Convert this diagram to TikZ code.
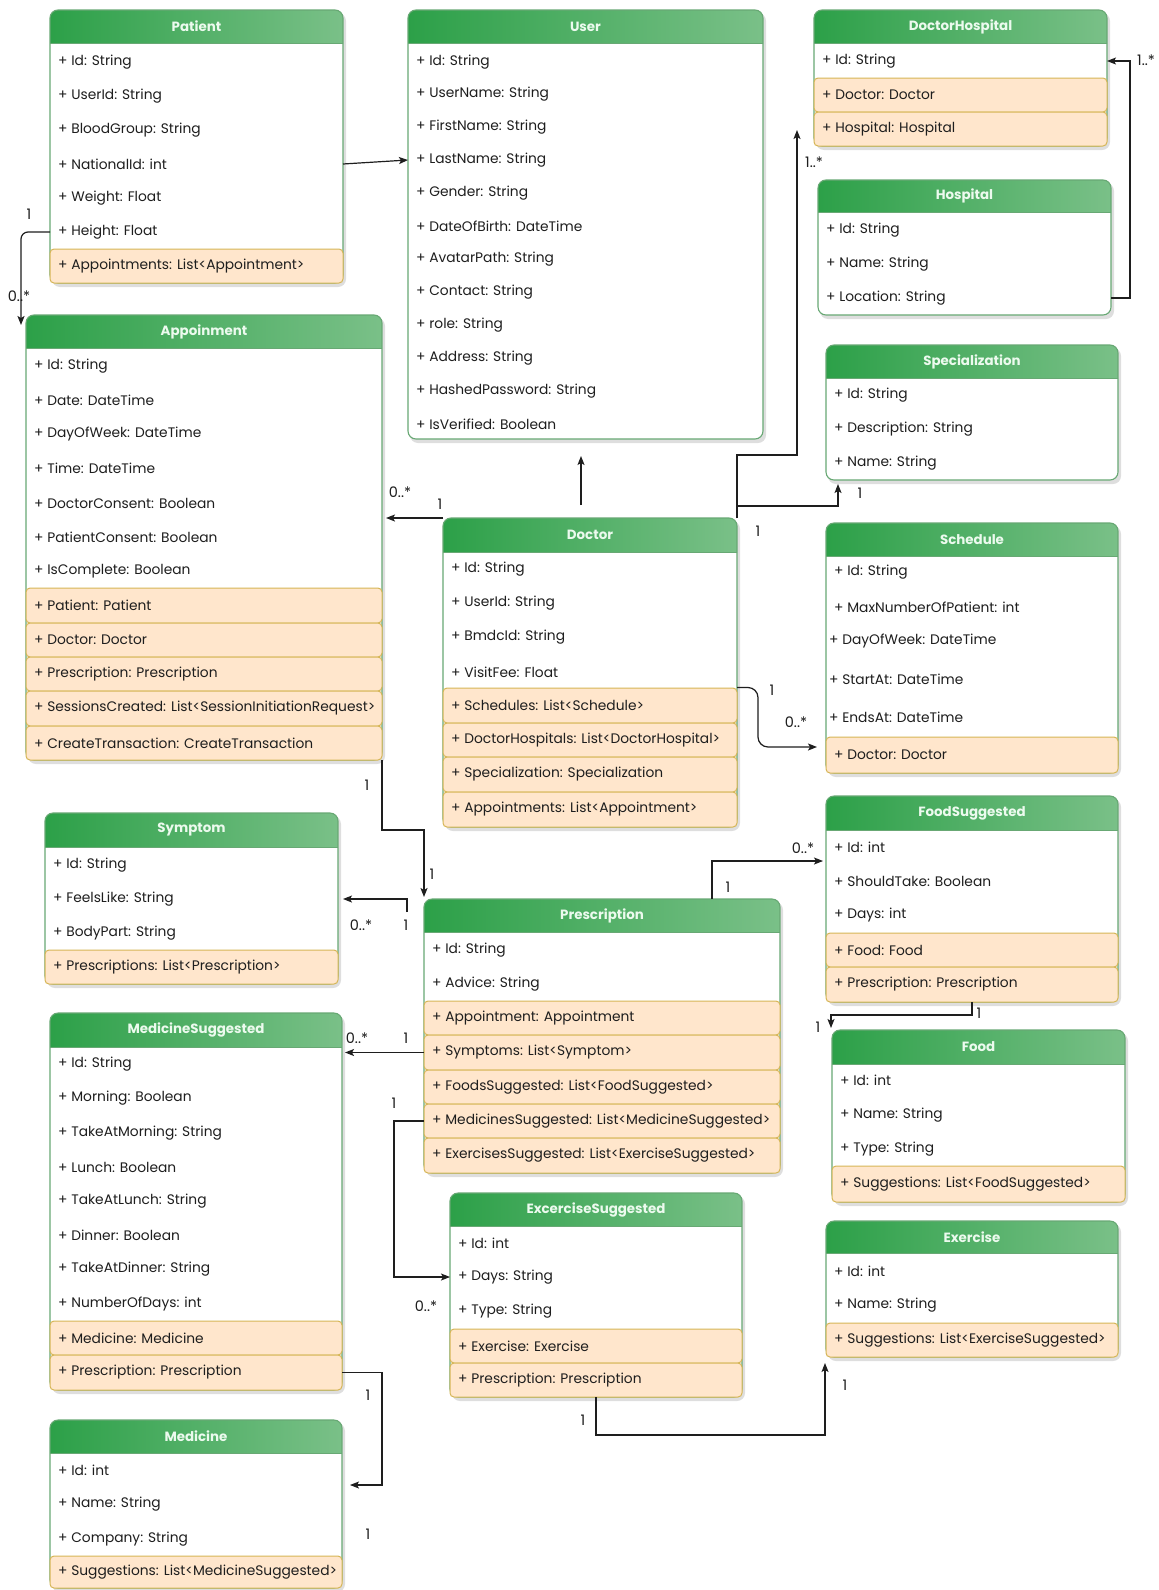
\documentclass[tikz,border=0pt]{standalone}
\usepackage{fontspec}
\setmainfont{Poppins}
\usetikzlibrary{arrows.meta,calc}

\definecolor{hdl}{RGB}{44,160,72}
\definecolor{hdr}{RGB}{122,192,136}
\definecolor{frameg}{RGB}{104,168,116}
\definecolor{orfill}{RGB}{255,230,204}
\definecolor{orline}{RGB}{214,182,86}
\definecolor{titlec}{RGB}{236,250,238}
\definecolor{rowc}{RGB}{30,30,30}
\definecolor{linec}{RGB}{30,30,30}

\tikzset{
  classframe/.style={draw=frameg, line width=1.1pt, rounded corners=8pt,
    inner sep=0pt, outer sep=0pt},
  rowtxt/.style={anchor=west, inner sep=0pt, text=rowc,
    font=\fontsize{13.8}{16}\selectfont},
  titletxt/.style={inner sep=0pt, text=titlec,
    font=\fontsize{13.4}{16}\selectfont\bfseries},
  orowbox/.style={fill=orfill, draw=orline, line width=1pt, rounded corners=4pt},
  conn/.style={draw=linec, line width=1.2pt,
    -{Stealth[length=9pt,width=7pt,inset=2pt]}},
  mult/.style={inner sep=0pt, text=linec, font=\fontsize{14.5}{16}\selectfont},
}

% class box: name, title, left, top, right, header bottom, bottom
\newcommand\umlclass[7]{%
  \fill[black, opacity=0.13, rounded corners=8pt] ($(#3,#4)+(2,3)$) rectangle ($(#5,#7)+(3,4)$);
  \fill[white, rounded corners=8pt] (#3,#4) rectangle (#5,#7);
  \begin{scope}
    \clip[rounded corners=8pt] (#3,#4) rectangle (#5,#7);
    \shade[left color=hdl, right color=hdr] (#3,#4) rectangle (#5,#6);
  \end{scope}
  \draw[frameg, line width=0.8pt] (#3,#6) -- (#5,#6);
  \node[classframe, minimum width={#5-#3}, minimum height={#7-#4},
    anchor=north west] (#1) at (#3,#4) {};
  \node[titletxt] (#1-t) at ({(#3+#5)/2},{(#4+#6)/2}) {#2};
}
% plain attribute row: name, x, y, text
\newcommand\arow[4]{\node[rowtxt] (#1) at (#2,#3) {#4};}
% reference row: name, left, top, right, bottom, text
\newcommand\orow[6]{%
  \draw[orowbox] (#2,#3) rectangle (#4,#5);
  \node[rowtxt] (#1) at ({#2+8},{(#3+#5)/2}) {#6};}

\begin{document}
\begin{tikzpicture}[x=1pt,y=-1pt]
\fill[white] (0,0) rectangle (1159,1590);
\useasboundingbox (0,0) rectangle (1159,1590);

% ---------------- Patient
\umlclass{patient}{Patient}{50}{10}{343}{43}{283}
\arow{pa-id}{58}{62}{+ Id: String}
\arow{pa-uid}{58}{96}{+ UserId: String}
\arow{pa-blood}{58}{130}{+ BloodGroup: String}
\arow{pa-nid}{58}{164}{+ NationalId: int}
\arow{pa-weight}{58}{198}{+ Weight: Float}
\arow{pa-height}{58}{232}{+ Height: Float}
\orow{pa-appts}{50}{249}{343}{283}{+ Appointments: List<Appointment>}

% ---------------- User
\umlclass{user}{User}{408}{10}{763}{43}{439}
\arow{us-id}{416}{62}{+ Id: String}
\arow{us-uname}{416}{94}{+ UserName: String}
\arow{us-first}{416}{127}{+ FirstName: String}
\arow{us-last}{416}{160}{+ LastName: String}
\arow{us-gender}{416}{193}{+ Gender: String}
\arow{us-dob}{416}{226}{+ DateOfBirth: DateTime}
\arow{us-avatar}{416}{259}{+ AvatarPath: String}
\arow{us-contact}{416}{292}{+ Contact: String}
\arow{us-role}{416}{325}{+ role: String}
\arow{us-addr}{416}{358}{+ Address: String}
\arow{us-hash}{416}{391}{+ HashedPassword: String}
\arow{us-verif}{416}{424}{+ IsVerified: Boolean}

% ---------------- DoctorHospital
\umlclass{dochosp}{DoctorHospital}{814}{10}{1107}{43}{146}
\arow{dh-id}{822}{61}{+ Id: String}
\orow{dh-doc}{814}{78}{1107}{112}{+ Doctor: Doctor}
\orow{dh-hosp}{814}{112}{1107}{146}{+ Hospital: Hospital}

% ---------------- Hospital
\umlclass{hospital}{Hospital}{818}{180}{1111}{212}{315}
\arow{ho-id}{826}{230}{+ Id: String}
\arow{ho-name}{826}{264}{+ Name: String}
\arow{ho-loc}{826}{298}{+ Location: String}

% ---------------- Specialization
\umlclass{spec}{Specialization}{826}{345}{1118}{378}{480}
\arow{sp-id}{834}{395}{+ Id: String}
\arow{sp-desc}{834}{429}{+ Description: String}
\arow{sp-name}{834}{463}{+ Name: String}

% ---------------- Schedule
\umlclass{schedule}{Schedule}{826}{523}{1118}{556}{773}
\arow{sc-id}{834}{572}{+ Id: String}
\arow{sc-max}{834}{607}{+ MaxNumberOfPatient: int}
\arow{sc-dow}{829}{641}{+ DayOfWeek: DateTime}
\arow{sc-start}{829}{679}{+ StartAt: DateTime}
\arow{sc-end}{829}{717}{+ EndsAt: DateTime}
\orow{sc-doc}{826}{737}{1118}{773}{+ Doctor: Doctor}

% ---------------- Appointment
\umlclass{appt}{Appoinment}{26}{315}{382}{348}{760}
\arow{ap-id}{34}{366}{+ Id: String}
\arow{ap-date}{34}{400}{+ Date: DateTime}
\arow{ap-dow}{34}{434}{+ DayOfWeek: DateTime}
\arow{ap-time}{34}{468}{+ Time: DateTime}
\arow{ap-dcons}{34}{503}{+ DoctorConsent: Boolean}
\arow{ap-pcons}{34}{537}{+ PatientConsent: Boolean}
\arow{ap-done}{34}{571}{+ IsComplete: Boolean}
\orow{ap-pat}{26}{588}{382}{623}{+ Patient: Patient}
\orow{ap-doc}{26}{623}{382}{657}{+ Doctor: Doctor}
\orow{ap-presc}{26}{657}{382}{691}{+ Prescription: Prescription}
\orow{ap-sess}{26}{691}{382}{726}{+ SessionsCreated: List<SessionInitiationRequest>}
\orow{ap-trans}{26}{726}{382}{760}{+ CreateTransaction: CreateTransaction}

% ---------------- Doctor
\umlclass{doctor}{Doctor}{443}{518}{737}{552}{827}
\arow{dr-id}{451}{569}{+ Id: String}
\arow{dr-uid}{451}{603}{+ UserId: String}
\arow{dr-bmdc}{451}{637}{+ BmdcId: String}
\arow{dr-fee}{451}{672}{+ VisitFee: Float}
\orow{dr-sched}{443}{688}{737}{723}{+ Schedules: List<Schedule>}
\orow{dr-dh}{443}{723}{737}{757}{+ DoctorHospitals: List<DoctorHospital>}
\orow{dr-spec}{443}{757}{737}{792}{+ Specialization: Specialization}
\orow{dr-appts}{443}{792}{737}{827}{+ Appointments: List<Appointment>}

% ---------------- Symptom
\umlclass{symptom}{Symptom}{45}{813}{338}{847}{984}
\arow{sy-id}{53}{865}{+ Id: String}
\arow{sy-feel}{53}{899}{+ FeelsLike: String}
\arow{sy-body}{53}{933}{+ BodyPart: String}
\orow{sy-presc}{45}{950}{338}{984}{+ Prescriptions: List<Prescription>}

% ---------------- Prescription
\umlclass{presc}{Prescription}{424}{899}{780}{932}{1173}
\arow{pr-id}{432}{950}{+ Id: String}
\arow{pr-adv}{432}{984}{+ Advice: String}
\orow{pr-appt}{424}{1001}{780}{1035}{+ Appointment: Appointment}
\orow{pr-symp}{424}{1035}{780}{1070}{+ Symptoms: List<Symptom>}
\orow{pr-food}{424}{1070}{780}{1104}{+ FoodsSuggested: List<FoodSuggested>}
\orow{pr-meds}{424}{1104}{780}{1138}{+ MedicinesSuggested: List<MedicineSuggested>}
\orow{pr-exer}{424}{1138}{780}{1173}{+ ExercisesSuggested: List<ExerciseSuggested>}

% ---------------- FoodSuggested
\umlclass{foodsug}{FoodSuggested}{826}{796}{1118}{830}{1002}
\arow{fs-id}{834}{847}{+ Id: int}
\arow{fs-take}{834}{881}{+ ShouldTake: Boolean}
\arow{fs-days}{834}{915}{+ Days: int}
\orow{fs-food}{826}{933}{1118}{967}{+ Food: Food}
\orow{fs-presc}{826}{967}{1118}{1002}{+ Prescription: Prescription}

% ---------------- Food
\umlclass{food}{Food}{832}{1030}{1125}{1064}{1202}
\arow{fo-id}{840}{1080}{+ Id: int}
\arow{fo-name}{840}{1115}{+ Name: String}
\arow{fo-type}{840}{1149}{+ Type: String}
\orow{fo-sugg}{832}{1166}{1125}{1202}{+ Suggestions: List<FoodSuggested>}

% ---------------- MedicineSuggested
\umlclass{medsug}{MedicineSuggested}{50}{1013}{342}{1047}{1390}
\arow{ms-id}{58}{1064}{+ Id: String}
\arow{ms-morn}{58}{1098}{+ Morning: Boolean}
\arow{ms-tmorn}{58}{1133}{+ TakeAtMorning: String}
\arow{ms-lunch}{58}{1167}{+ Lunch: Boolean}
\arow{ms-tlunch}{58}{1201}{+ TakeAtLunch: String}
\arow{ms-dinner}{58}{1235}{+ Dinner: Boolean}
\arow{ms-tdinner}{58}{1269}{+ TakeAtDinner: String}
\arow{ms-days}{58}{1304}{+ NumberOfDays: int}
\orow{ms-med}{50}{1321}{342}{1355}{+ Medicine: Medicine}
\orow{ms-presc}{50}{1355}{342}{1390}{+ Prescription: Prescription}

% ---------------- ExerciseSuggested
\umlclass{exsug}{ExcerciseSuggested}{450}{1193}{742}{1226}{1397}
\arow{es-id}{458}{1243}{+ Id: int}
\arow{es-days}{458}{1277}{+ Days: String}
\arow{es-type}{458}{1311}{+ Type: String}
\orow{es-ex}{450}{1329}{742}{1363}{+ Exercise: Exercise}
\orow{es-presc}{450}{1363}{742}{1397}{+ Prescription: Prescription}

% ---------------- Exercise
\umlclass{exercise}{Exercise}{826}{1221}{1118}{1253}{1357}
\arow{ex-id}{834}{1271}{+ Id: int}
\arow{ex-name}{834}{1305}{+ Name: String}
\orow{ex-sugg}{826}{1323}{1118}{1357}{+ Suggestions: List<ExerciseSuggested>}

% ---------------- Medicine
\umlclass{medicine}{Medicine}{50}{1420}{342}{1453}{1588}
\arow{me-id}{58}{1470}{+ Id: int}
\arow{me-name}{58}{1504}{+ Name: String}
\arow{me-comp}{58}{1539}{+ Company: String}
\orow{me-sugg}{50}{1556}{342}{1588}{+ Suggestions: List<MedicineSuggested>}

% ---------------- connector end points
\coordinate (ap-in) at (21,325);
\coordinate (us-tip) at (581,456);
\coordinate (dh-tip) at (797,130);
\coordinate (sp-tip) at (838,484);
\coordinate (sc-bend) at (758,747);
\coordinate (sc-tip) at (817,747);
\coordinate (sy-start) at (407,912);
\coordinate (fs-tip) at (823,861);
\coordinate (fo-tip) at (831,1028);
\coordinate (me-tip) at (350,1485);
\coordinate (ex-tip) at (825,1363);

% ---------------- connectors
\draw[conn] (patient.east |- pa-nid) -- (user.west |- us-last);
\draw[conn, rounded corners=7pt] (patient.west |- pa-height) -| (ap-in);
\draw[conn] ([yshift=13pt]doctor.north -| us-tip) -- (us-tip);
\draw[conn] (doctor.north west) -- ([xshift=4pt]appt.east |- doctor.north west);
\draw[conn] (doctor.north east) -- ++(0,-63) -| (dh-tip);
\draw[conn] (doctor.north east) -- ++(0,-12) -| (sp-tip);
\draw[conn, rounded corners=10pt] ([yshift=18pt]doctor.east |- dr-sched) -| (sc-bend) -- (sc-tip);
\draw[conn] (hospital.east |- ho-loc) -- ++(19,0) |- (dochosp.east |- dh-id);
\draw[conn] (appt.south east) -- ++(0,70) -| ([yshift=2pt]presc.north west);
\draw[conn] (sy-start) |- ([xshift=5pt]symptom.east |- sy-feel);
\draw[conn] (presc.west |- pr-symp) -- ([xshift=3pt]medsug.east |- pr-symp);
\draw[conn] (presc.west |- pr-meds) -- ++(-30,0) |- (exsug.west |- es-days);
\draw[conn] ([xshift=110pt]presc.north) |- (fs-tip);
\draw[conn] (foodsug.south) -- ++(0,13) -| (fo-tip);
\draw[conn] (medsug.east |- ms-presc) -- ++(40,0) |- (me-tip);
\draw[conn] (exsug.south) -- ++(0,38) -| (ex-tip);

% ---------------- multiplicities
\node[mult] (m1) at (29,214) {1};
\node[mult] (m2) at (19,296) {0..*};
\node[mult] (m3) at (400,492) {0..*};
\node[mult] (m4) at (440,504) {1};
\node[mult] (m5) at (814,162) {1..*};
\node[mult] (m6) at (758,531) {1};
\node[mult] (m7) at (860,493) {1};
\node[mult] (m8) at (772,690) {1};
\node[mult] (m9) at (796,722) {0..*};
\node[mult] (m10) at (1146,60) {1..*};
\node[mult] (m11) at (367,785) {1};
\node[mult] (m12) at (432,874) {1};
\node[mult] (m13) at (361,925) {0..*};
\node[mult] (m14) at (406,925) {1};
\node[mult] (m15) at (357,1038) {0..*};
\node[mult] (m16) at (406,1038) {1};
\node[mult] (m17) at (394,1103) {1};
\node[mult] (m18) at (426,1306) {0..*};
\node[mult] (m19) at (728,887) {1};
\node[mult] (m20) at (803,848) {0..*};
\node[mult] (m21) at (979,1013) {1};
\node[mult] (m22) at (818,1027) {1};
\node[mult] (m23) at (368,1395) {1};
\node[mult] (m24) at (368,1534) {1};
\node[mult] (m25) at (583,1420) {1};
\node[mult] (m26) at (845,1385) {1};
\end{tikzpicture}
\end{document}
